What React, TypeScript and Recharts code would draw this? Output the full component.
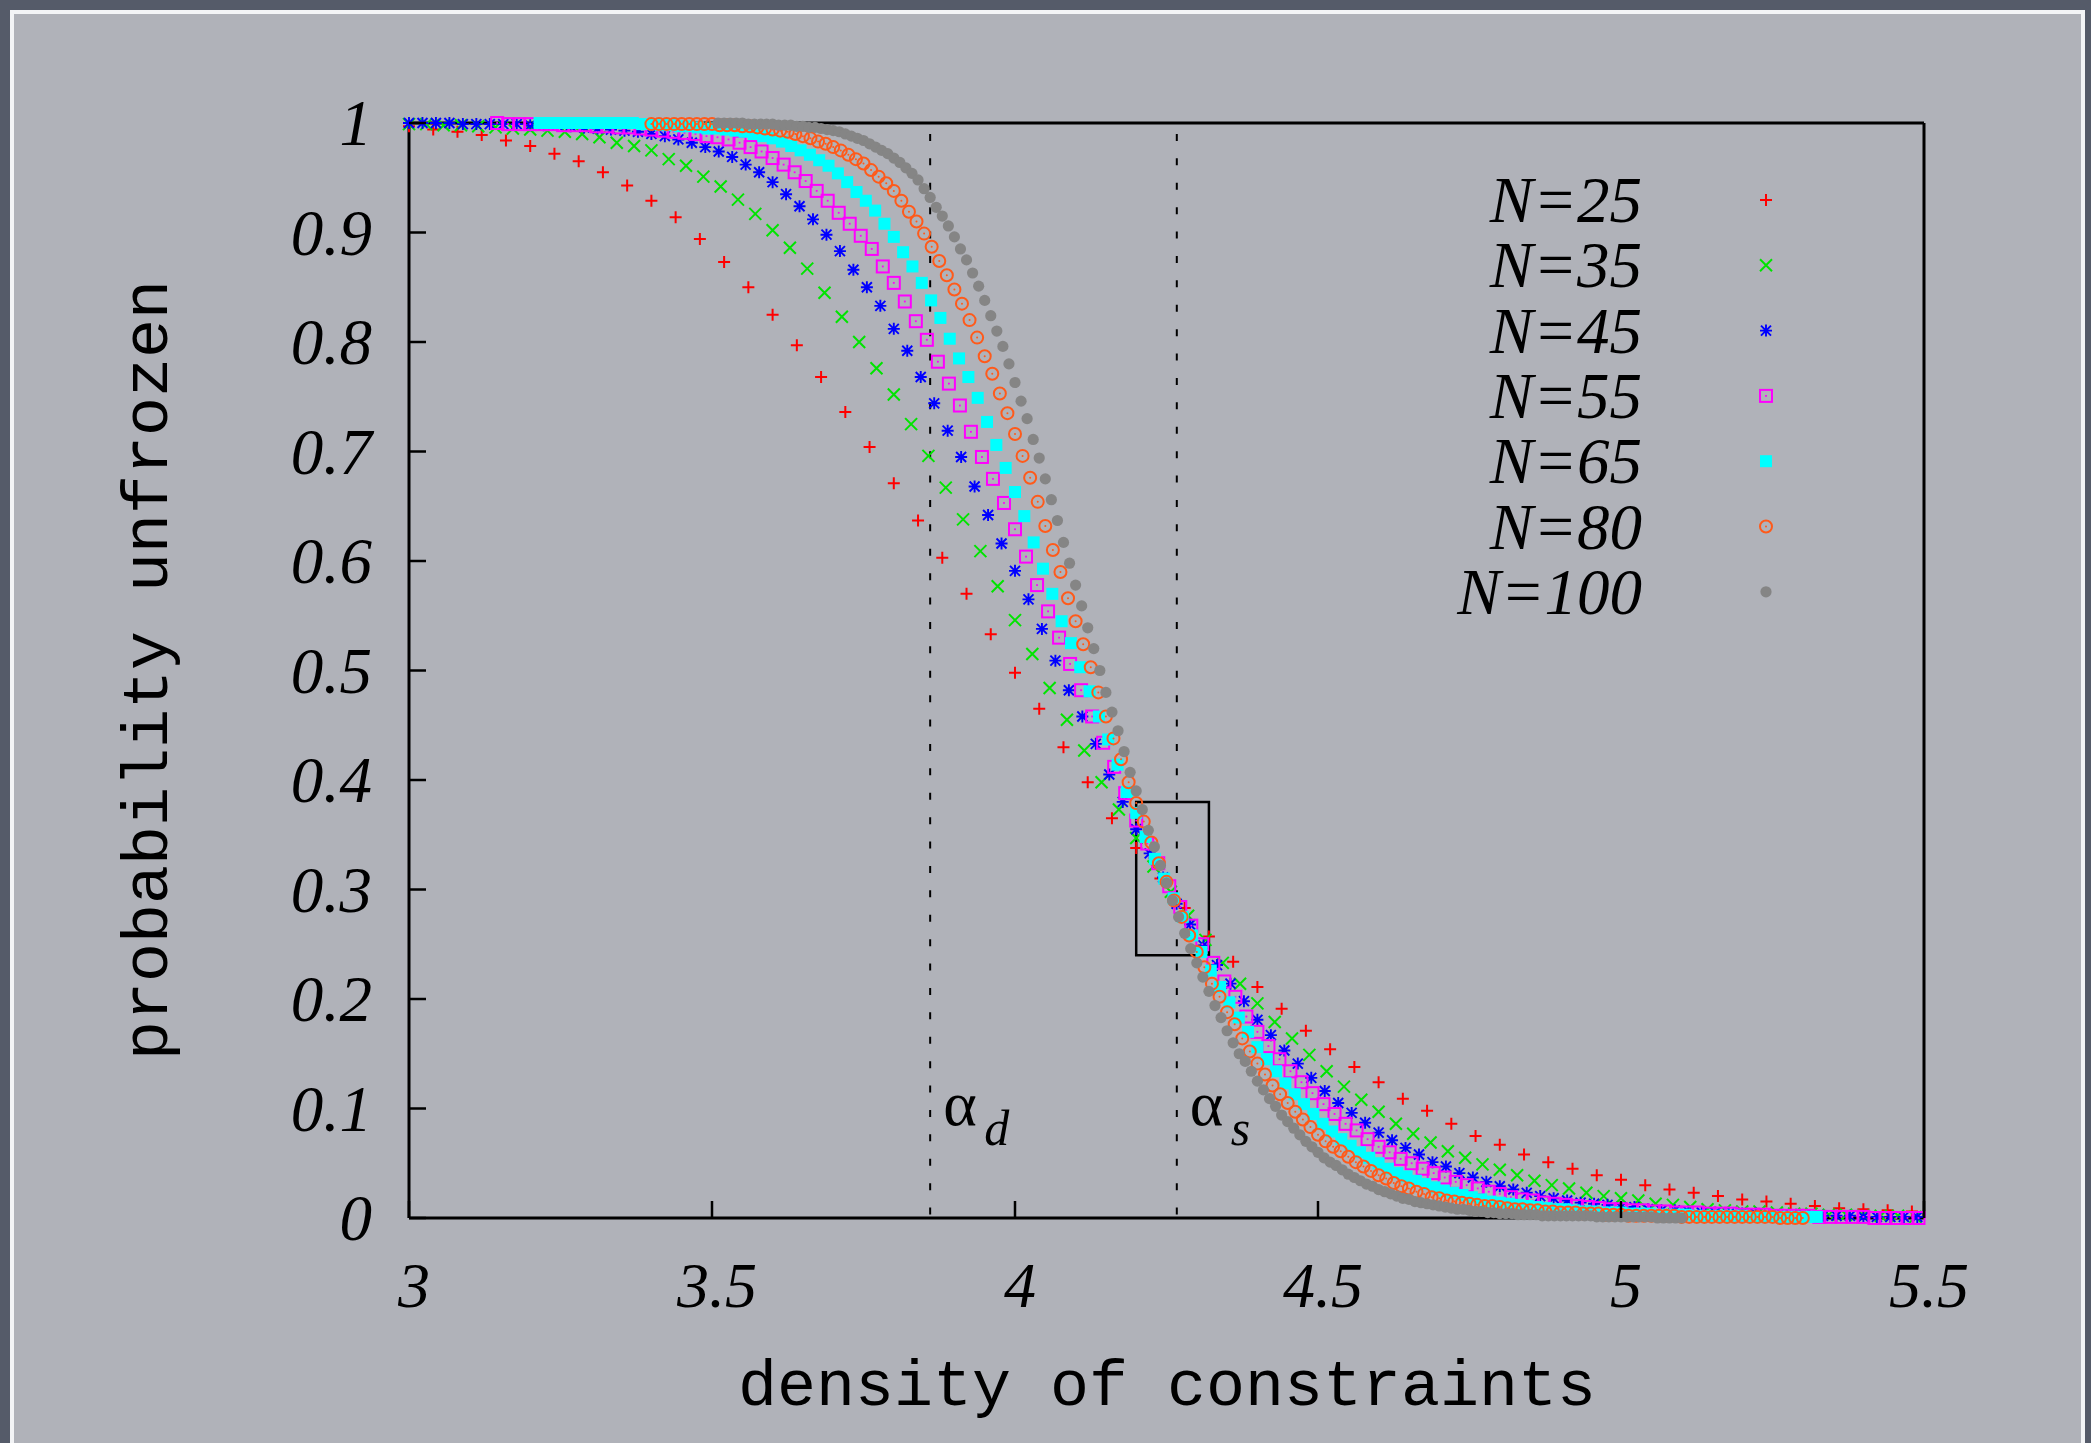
// Probability unfrozen vs density of constraints, finite-size curves
import React from 'react';
import { ScatterChart, Scatter, XAxis, YAxis, ReferenceLine, ReferenceArea } from 'recharts';

// system sizes and first measured M (alpha = M / N)
const sizes = [25, 35, 45, 55, 65, 80, 100];
const firstM = [75, 105, 135, 173, 209, 272, 351];

// measured probabilities, one value per integer M
const p25 = [
  0.997, 0.994, 0.992, 0.989, 0.984, 0.979, 0.972, 0.965, 0.955, 0.943,
  0.929, 0.914, 0.894, 0.873, 0.850, 0.825, 0.797, 0.768, 0.736, 0.704,
  0.671, 0.637, 0.603, 0.570, 0.533, 0.498, 0.465, 0.430, 0.398, 0.365,
  0.338, 0.310, 0.283, 0.257, 0.234, 0.211, 0.191, 0.171, 0.154, 0.138,
  0.124, 0.109, 0.098, 0.086, 0.075, 0.067, 0.058, 0.051, 0.045, 0.039,
  0.035, 0.030, 0.026, 0.023, 0.020, 0.017, 0.015, 0.013, 0.011, 0.009,
  0.008, 0.007, 0.006,
];
const p35 = [
  0.999, 0.999, 0.998, 0.998, 0.997, 0.996, 0.995, 0.994, 0.993, 0.992,
  0.990, 0.987, 0.982, 0.979, 0.975, 0.967, 0.961, 0.951, 0.942, 0.930,
  0.917, 0.902, 0.886, 0.867, 0.845, 0.823, 0.800, 0.776, 0.752, 0.725,
  0.696, 0.667, 0.638, 0.609, 0.577, 0.546, 0.515, 0.484, 0.455, 0.427,
  0.398, 0.373, 0.347, 0.321, 0.298, 0.276, 0.254, 0.233, 0.214, 0.196,
  0.179, 0.164, 0.149, 0.134, 0.120, 0.108, 0.097, 0.086, 0.077, 0.069,
  0.061, 0.055, 0.049, 0.044, 0.039, 0.034, 0.030, 0.027, 0.023, 0.020,
  0.018, 0.016, 0.013, 0.012, 0.010, 0.008, 0.007, 0.006, 0.006, 0.005,
  0.004, 0.004, 0.003, 0.003, 0.002, 0.002, 0.002, 0.001,
];
const p45 = [
  1.000, 1.000, 1.000, 1.000, 0.999, 0.999, 0.999, 0.999, 0.999, 0.998,
  0.998, 0.998, 0.997, 0.996, 0.995, 0.994, 0.993, 0.992, 0.990, 0.988,
  0.985, 0.982, 0.978, 0.974, 0.969, 0.962, 0.955, 0.946, 0.935, 0.924,
  0.912, 0.898, 0.883, 0.866, 0.850, 0.833, 0.812, 0.792, 0.768, 0.744,
  0.719, 0.695, 0.668, 0.642, 0.616, 0.591, 0.565, 0.538, 0.509, 0.482,
  0.458, 0.433, 0.405, 0.380, 0.355, 0.333, 0.311, 0.287, 0.268, 0.249,
  0.231, 0.214, 0.198, 0.181, 0.167, 0.153, 0.141, 0.128, 0.116, 0.105,
  0.096, 0.087, 0.078, 0.071, 0.064, 0.058, 0.051, 0.047, 0.041, 0.037,
  0.033, 0.029, 0.026, 0.023, 0.020, 0.018, 0.016, 0.014, 0.013, 0.012,
  0.010, 0.010, 0.008, 0.007, 0.007, 0.006, 0.005, 0.005, 0.004, 0.004,
  0.004, 0.003, 0.003, 0.003, 0.002, 0.002, 0.002, 0.002, 0.001, 0.001,
  0.001, 0.001, 0.001,
];
const p55 = [
  1.000, 0.999,
  0.999, 0.999, 0.999, 0.999, 0.998, 0.998, 0.998, 0.997, 0.997, 0.996,
  0.996, 0.995, 0.994, 0.993, 0.992, 0.991, 0.990, 0.988, 0.987, 0.985,
  0.982, 0.978, 0.974, 0.968, 0.962, 0.955, 0.947, 0.938, 0.929, 0.918,
  0.908, 0.897, 0.885, 0.869, 0.854, 0.837, 0.819, 0.802, 0.782, 0.762,
  0.742, 0.718, 0.695, 0.675, 0.653, 0.629, 0.604, 0.578, 0.554, 0.530,
  0.506, 0.482, 0.458, 0.434, 0.412, 0.388, 0.363, 0.342, 0.324, 0.303,
  0.284, 0.267, 0.250, 0.233, 0.216, 0.202, 0.184, 0.170, 0.157, 0.145,
  0.134, 0.124, 0.114, 0.104, 0.095, 0.086, 0.080, 0.072, 0.065, 0.060,
  0.054, 0.050, 0.045, 0.041, 0.037, 0.033, 0.030, 0.027, 0.024, 0.022,
  0.019, 0.017, 0.016, 0.014, 0.013, 0.012, 0.011, 0.010, 0.009, 0.008,
  0.008, 0.007, 0.007, 0.006, 0.006, 0.005, 0.005, 0.005, 0.004, 0.004,
  0.004, 0.003, 0.003, 0.003, 0.002, 0.002, 0.002, 0.002, 0.001, 0.001,
  0.001, 0.001, 0.001, 0.000, 0.000, 0.000, 0.000, 0.000,
];
const p65 = [
  1.000, 1.000, 1.000, 1.000, 1.000, 1.000,
  1.000, 1.000, 1.000, 1.000, 1.000, 0.999, 0.999, 0.998, 0.998, 0.997,
  0.997, 0.996, 0.995, 0.995, 0.994, 0.993, 0.992, 0.990, 0.988, 0.986,
  0.983, 0.979, 0.975, 0.971, 0.966, 0.961, 0.954, 0.946, 0.937, 0.929,
  0.920, 0.908, 0.896, 0.882, 0.869, 0.854, 0.838, 0.822, 0.803, 0.785,
  0.768, 0.749, 0.727, 0.706, 0.685, 0.663, 0.641, 0.617, 0.593, 0.570,
  0.545, 0.525, 0.503, 0.481, 0.458, 0.437, 0.414, 0.389, 0.370, 0.348,
  0.328, 0.310, 0.292, 0.275, 0.258, 0.243, 0.226, 0.211, 0.197, 0.183,
  0.170, 0.156, 0.145, 0.134, 0.123, 0.113, 0.104, 0.095, 0.086, 0.079,
  0.072, 0.066, 0.060, 0.055, 0.050, 0.045, 0.041, 0.038, 0.034, 0.031,
  0.028, 0.025, 0.023, 0.021, 0.019, 0.017, 0.015, 0.014, 0.013, 0.012,
  0.011, 0.010, 0.009, 0.008, 0.008, 0.007, 0.006, 0.006, 0.005, 0.005,
  0.005, 0.004, 0.004, 0.004, 0.003, 0.003, 0.003, 0.003, 0.002, 0.002,
  0.002, 0.002, 0.002, 0.002, 0.001, 0.001, 0.001, 0.001, 0.001, 0.001,
  0.001, 0.001,
];
const p80 = [
  0.999, 0.999, 0.999, 0.999, 0.999, 0.999, 0.999, 0.999,
  0.999, 0.998, 0.998, 0.998, 0.997, 0.997, 0.996, 0.995, 0.994, 0.993,
  0.992, 0.990, 0.988, 0.986, 0.983, 0.981, 0.978, 0.975, 0.971, 0.967,
  0.963, 0.957, 0.951, 0.945, 0.938, 0.929, 0.919, 0.910, 0.899, 0.887,
  0.874, 0.861, 0.848, 0.835, 0.820, 0.804, 0.787, 0.771, 0.753, 0.735,
  0.716, 0.696, 0.676, 0.654, 0.632, 0.610, 0.590, 0.566, 0.545, 0.524,
  0.503, 0.480, 0.458, 0.438, 0.419, 0.398, 0.379, 0.362, 0.343, 0.324,
  0.307, 0.290, 0.275, 0.258, 0.243, 0.229, 0.214, 0.202, 0.188, 0.177,
  0.164, 0.152, 0.141, 0.131, 0.121, 0.113, 0.105, 0.097, 0.090, 0.083,
  0.076, 0.070, 0.065, 0.061, 0.056, 0.051, 0.047, 0.043, 0.039, 0.036,
  0.032, 0.029, 0.027, 0.024, 0.022, 0.019, 0.018, 0.016, 0.015, 0.014,
  0.013, 0.012, 0.011, 0.011, 0.010, 0.009, 0.008, 0.008, 0.007, 0.007,
  0.006, 0.006, 0.005, 0.005, 0.005, 0.004, 0.004, 0.004, 0.003, 0.003,
  0.003, 0.002, 0.002, 0.002, 0.002, 0.002, 0.002, 0.002, 0.001, 0.001,
  0.001, 0.001, 0.001, 0.001, 0.001, 0.001, 0.001, 0.001, 0.001, 0.001,
  0.001, 0.000, 0.000, 0.000, 0.000,
];
const p100 = [
  1.000, 1.000, 1.000, 1.000, 1.000, 0.999, 0.999, 0.999, 0.999,
  0.999, 0.998, 0.998, 0.998, 0.997, 0.997, 0.996, 0.996, 0.995, 0.994,
  0.993, 0.992, 0.990, 0.988, 0.986, 0.984, 0.981, 0.978, 0.975, 0.972,
  0.968, 0.964, 0.959, 0.954, 0.948, 0.940, 0.932, 0.923, 0.915, 0.906,
  0.896, 0.885, 0.875, 0.863, 0.851, 0.838, 0.824, 0.810, 0.796, 0.780,
  0.763, 0.746, 0.730, 0.711, 0.694, 0.675, 0.656, 0.637, 0.617, 0.598,
  0.578, 0.559, 0.539, 0.520, 0.500, 0.480, 0.462, 0.445, 0.426, 0.407,
  0.390, 0.373, 0.354, 0.339, 0.322, 0.306, 0.290, 0.275, 0.260, 0.246,
  0.233, 0.220, 0.207, 0.194, 0.183, 0.171, 0.160, 0.150, 0.143, 0.134,
  0.125, 0.117, 0.109, 0.102, 0.094, 0.088, 0.082, 0.076, 0.070, 0.065,
  0.060, 0.055, 0.051, 0.048, 0.044, 0.040, 0.037, 0.034, 0.031, 0.029,
  0.026, 0.024, 0.022, 0.020, 0.018, 0.017, 0.015, 0.014, 0.013, 0.012,
  0.011, 0.010, 0.009, 0.008, 0.008, 0.007, 0.006, 0.006, 0.005, 0.005,
  0.004, 0.004, 0.004, 0.003, 0.003, 0.003, 0.003, 0.002, 0.002, 0.002,
  0.002, 0.002, 0.002, 0.002, 0.002, 0.002, 0.001, 0.001, 0.001, 0.001,
  0.001, 0.001, 0.001, 0.001, 0.001, 0.001, 0.000, 0.000, 0.000, 0.000,
  0.000,
];

const xTicks = [3, 3.5, 4, 4.5, 5, 5.5];
const yTicks = [0, 0.1, 0.2, 0.3, 0.4, 0.5, 0.6, 0.7, 0.8, 0.9, 1];
const alphaD = 3.86;
const alphaS = 4.267;
const box = { x1: 4.2, x2: 4.32, y1: 0.24, y2: 0.38 };

const SERIF = '"Liberation Serif", "Times New Roman", serif';
const MONO = '"Liberation Mono", "Courier New", monospace';
const TICK = 17;

type Kind = 'plus' | 'cross' | 'star' | 'box' | 'boxf' | 'circ' | 'circf';
const kinds: Kind[] = ['plus', 'cross', 'star', 'box', 'boxf', 'circ', 'circf'];
const colors = ['#ff0000', '#00e400', '#0000ff', '#ff00ff', '#00ffff', '#ff5a1a', '#858585'];
const values = [p25, p35, p45, p55, p65, p80, p100];

const series = sizes.map((n, i) => ({
  n,
  kind: kinds[i],
  color: colors[i],
  data: values[i].map((p, k) => ({ alpha: (firstM[i] + k) / n, p })),
}));

function Marker({ kind, color, cx, cy }: { kind: Kind; color: string; cx: number; cy: number }) {
  const r = 6;
  if (kind === 'plus')
    return <path d={`M${cx - r},${cy}H${cx + r}M${cx},${cy - r}V${cy + r}`} stroke={color} strokeWidth={2} fill="none" />;
  if (kind === 'cross')
    return <path d={`M${cx - r},${cy - r}L${cx + r},${cy + r}M${cx - r},${cy + r}L${cx + r},${cy - r}`} stroke={color} strokeWidth={2} fill="none" />;
  if (kind === 'star')
    return (
      <path
        d={`M${cx - r},${cy}H${cx + r}M${cx},${cy - r}V${cy + r}M${cx - r + 1},${cy - r + 1}L${cx + r - 1},${cy + r - 1}M${cx - r + 1},${cy + r - 1}L${cx + r - 1},${cy - r + 1}`}
        stroke={color}
        strokeWidth={1.9}
        fill="none"
      />
    );
  if (kind === 'box')
    return (
      <g>
        <rect x={cx - r} y={cy - r} width={2 * r} height={2 * r} stroke={color} strokeWidth={2} fill="none" />
        <rect x={cx - 0.9} y={cy - 0.9} width={1.8} height={1.8} fill={color} />
      </g>
    );
  if (kind === 'boxf') return <rect x={cx - r} y={cy - r} width={2 * r} height={2 * r} fill={color} />;
  if (kind === 'circ')
    return (
      <g>
        <circle cx={cx} cy={cy} r={r} stroke={color} strokeWidth={2} fill="none" />
        <circle cx={cx} cy={cy} r={1} fill={color} />
      </g>
    );
  return <circle cx={cx} cy={cy} r={5.6} fill={color} />;
}

function BottomTick(props: any) {
  const { x, y, payload } = props;
  return (
    <g>
      <line x1={x} y1={y} x2={x} y2={y - TICK} stroke="#000" strokeWidth={2.5} />
      <text x={x + 5} y={y + 89} textAnchor="middle" fontFamily={SERIF} fontStyle="italic" fontSize={64} fill="#000">
        {payload.value}
      </text>
    </g>
  );
}

function TopTick(props: any) {
  const { x, y } = props;
  return <line x1={x} y1={y} x2={x} y2={y + TICK} stroke="#000" strokeWidth={2.5} />;
}

function LeftTick(props: any) {
  const { x, y, payload } = props;
  return (
    <g>
      <line x1={x} y1={y} x2={x + TICK} y2={y} stroke="#000" strokeWidth={2.5} />
      <text x={x - 37} y={y + 22} textAnchor="end" fontFamily={SERIF} fontStyle="italic" fontSize={65} fill="#000">
        {payload.value}
      </text>
    </g>
  );
}

function RightTick(props: any) {
  const { x, y } = props;
  return <line x1={x} y1={y} x2={x - TICK} y2={y} stroke="#000" strokeWidth={2.5} />;
}

function alphaLabel(sub: string) {
  return (props: any) => {
    const vb = props.viewBox || {};
    const x = vb.x;
    const bottom = (vb.y || 0) + (vb.height || 0);
    return (
      <g>
        <text x={x + 13} y={bottom - 93} fontFamily={SERIF} fontSize={64} fill="#000">
          α
        </text>
        <text x={x + 54} y={bottom - 73} fontFamily={SERIF} fontStyle="italic" fontSize={50} fill="#000">
          {sub}
        </text>
      </g>
    );
  };
}

const axisLine = { stroke: '#000', strokeWidth: 3 };

export default function App() {
  return (
    <div style={{ position: 'fixed', left: 0, top: 0, width: 2091, height: 1443, background: '#555b69', overflow: 'hidden' }}>
      <div
        style={{
          position: 'absolute',
          left: 10,
          top: 10,
          width: 2075,
          height: 1460,
          boxSizing: 'border-box',
          border: '4px solid #f3f4f6',
          background: '#b0b2b9',
        }}
      />
      <div style={{ position: 'absolute', left: 0, top: 0 }}>
        <ScatterChart width={2091} height={1443} margin={{ top: 122, right: 166, bottom: 224, left: 408 }}>
          <XAxis
            type="number"
            dataKey="alpha"
            domain={[3, 5.5]}
            ticks={xTicks}
            interval={0}
            height={1}
            tickSize={0}
            tickMargin={0}
            tickLine={false}
            axisLine={axisLine}
            tick={BottomTick}
          />
          <XAxis
            xAxisId="top"
            orientation="top"
            type="number"
            dataKey="alpha"
            domain={[3, 5.5]}
            ticks={xTicks}
            interval={0}
            height={1}
            tickSize={0}
            tickMargin={0}
            tickLine={false}
            axisLine={axisLine}
            tick={TopTick}
          />
          <YAxis
            type="number"
            dataKey="p"
            domain={[0, 1]}
            ticks={yTicks}
            interval={0}
            width={1}
            tickSize={0}
            tickMargin={0}
            tickLine={false}
            axisLine={axisLine}
            tick={LeftTick}
          />
          <YAxis
            yAxisId="right"
            orientation="right"
            type="number"
            dataKey="p"
            domain={[0, 1]}
            ticks={yTicks}
            interval={0}
            width={1}
            tickSize={0}
            tickMargin={0}
            tickLine={false}
            axisLine={axisLine}
            tick={RightTick}
          />
          <ReferenceArea
            x1={box.x1}
            x2={box.x2}
            y1={box.y1}
            y2={box.y2}
            fill="none"
            fillOpacity={0}
            stroke="#000"
            strokeWidth={2.5}
          />
          <ReferenceLine
            segment={[{ x: alphaD, y: 0.99 }, { x: alphaD, y: 0 }]}
            stroke="#000"
            strokeWidth={2}
            strokeDasharray="7 17.4"
            label={alphaLabel('d')}
          />
          <ReferenceLine
            segment={[{ x: alphaS, y: 0.99 }, { x: alphaS, y: 0 }]}
            stroke="#000"
            strokeWidth={2}
            strokeDasharray="7 17.4"
            label={alphaLabel('s')}
          />
          {series.map((s) => (
            <Scatter
              key={s.n}
              name={`N=${s.n}`}
              data={s.data}
              dataKey="p"
              isAnimationActive={false}
              shape={(props: any) => <Marker kind={s.kind} color={s.color} cx={props.cx} cy={props.cy} />}
            />
          ))}
        </ScatterChart>
      </div>
      <svg width={2091} height={1443} style={{ position: 'absolute', left: 0, top: 0, pointerEvents: 'none' }}>
        <text x={1167} y={1405} textAnchor="middle" fontFamily={MONO} fontSize={65} fill="#000">
          density of constraints
        </text>
        <text x={167} y={670} textAnchor="middle" fontFamily={MONO} fontSize={65} fill="#000" transform="rotate(-90 167 670)">
          probability unfrozen
        </text>
        {series.map((s, i) => {
          const cy = 200 + i * 65.3;
          return (
            <g key={s.n}>
              <text x={1642} y={cy + 22} textAnchor="end" fontFamily={SERIF} fontStyle="italic" fontSize={65} fill="#000">
                {`N=${s.n}`}
              </text>
              <Marker kind={s.kind} color={s.color} cx={1766} cy={cy} />
            </g>
          );
        })}
      </svg>
    </div>
  );
}
